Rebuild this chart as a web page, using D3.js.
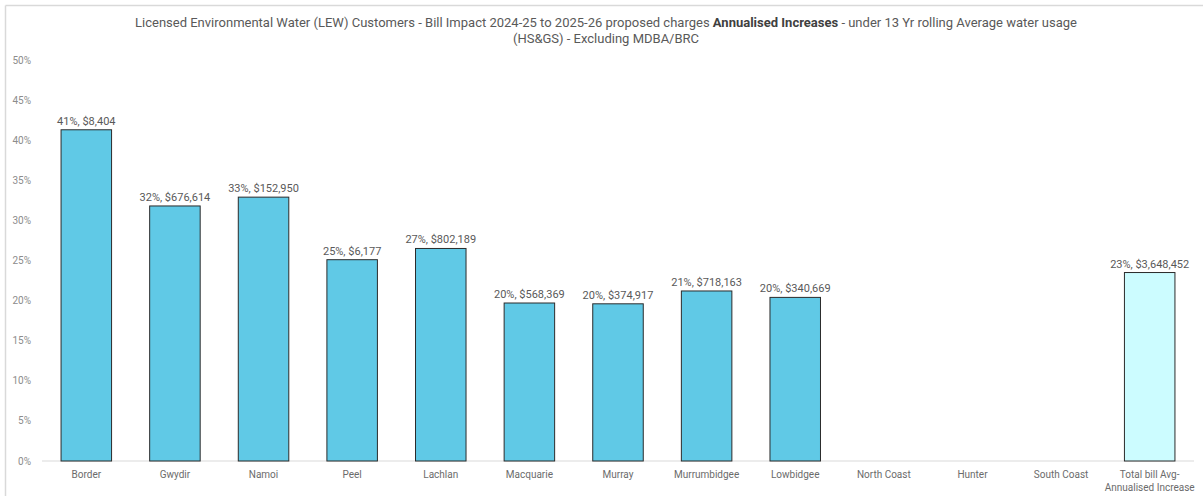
<!DOCTYPE html>
<html>
<head>
<meta charset="utf-8">
<script src="https://cdn.jsdelivr.net/npm/d3@7"></script>
<style>
  body { margin: 0; background: #fff; }
  svg { display: block; font-family: "Roboto", "Liberation Sans", sans-serif; }
</style>
</head>
<body>
<svg id="chart"></svg>
<script>
const categories = ["Border", "Gwydir", "Namoi", "Peel", "Lachlan", "Macquarie", "Murray",
    "Murrumbidgee", "Lowbidgee", "North Coast", "Hunter", "South Coast", "Total bill Avg-|Annualised Increase"];
const pctValues = [41.3, 31.8, 32.9, 25.1, 26.5, 19.7, 19.6, 21.2, 20.4, null, null, null, 23.5];
const barLabels = ["41%, $8,404", "32%, $676,614", "33%, $152,950", "25%, $6,177", "27%, $802,189",
    "20%, $568,369", "20%, $374,917", "21%, $718,163", "20%, $340,669", "", "", "", "23%, $3,648,452"];
const yTicks = [0, 5, 10, 15, 20, 25, 30, 35, 40, 45, 50];

const width = 1203, height = 496;
const margin = {top: 60, right: 9, bottom: 35, left: 42};

const svg = d3.select("#chart").attr("width", width).attr("height", height);

// outer frame (only top and left edges visible in the crop)
svg.append("line").attr("x1", 5.5).attr("x2", width).attr("y1", 5.5).attr("y2", 5.5)
    .attr("stroke", "#d9d9d9").attr("stroke-width", 1.5);
svg.append("line").attr("x1", 5.5).attr("x2", 5.5).attr("y1", 5.5).attr("y2", height)
    .attr("stroke", "#d9d9d9").attr("stroke-width", 1.5);

// title
const title = svg.append("text")
    .attr("x", 606).attr("y", 27)
    .attr("text-anchor", "middle")
    .attr("font-size", "13px")
    .attr("fill", "#595959");
title.append("tspan").text("Licensed Environmental Water (LEW) Customers - Bill Impact 2024-25 to 2025-26 proposed charges ");
title.append("tspan").attr("font-weight", "bold").attr("fill", "#404040").text("Annualised Increases");
title.append("tspan").text(" - under 13 Yr rolling Average water usage");
svg.append("text")
    .attr("x", 606).attr("y", 43)
    .attr("text-anchor", "middle")
    .attr("font-size", "13px")
    .attr("fill", "#595959")
    .text("(HS&GS) - Excluding MDBA/BRC");

const x = d3.scaleBand()
    .domain(categories)
    .range([margin.left, width - margin.right])
    .paddingInner(0.43)
    .paddingOuter(0.215);

const y = d3.scaleLinear()
    .domain([0, 50])
    .range([height - margin.bottom, margin.top]);

// y tick labels
svg.append("g").selectAll("text")
    .data(yTicks)
    .join("text")
    .attr("x", 31)
    .attr("y", d => y(d))
    .attr("dy", "0.35em")
    .attr("text-anchor", "end")
    .attr("font-size", "10px")
    .attr("fill", "#8c8c8c")
    .text(d => d + "%");

// baseline
svg.append("line")
    .attr("x1", margin.left).attr("x2", width - margin.right)
    .attr("y1", y(0)).attr("y2", y(0))
    .attr("stroke", "#d9d9d9").attr("stroke-width", 1);

const data = categories.map((c, i) => ({cat: c, v: pctValues[i], label: barLabels[i]}));
const barData = data.filter(d => d.v != null);

svg.append("g").selectAll("rect")
    .data(barData)
    .join("rect")
    .attr("x", d => x(d.cat))
    .attr("y", d => y(d.v))
    .attr("width", x.bandwidth())
    .attr("height", d => y(0) - y(d.v))
    .attr("fill", (d, i) => d.cat.startsWith("Total") ? "#ccfcff" : "#60c9e6")
    .attr("stroke", "#2b2b2b")
    .attr("stroke-width", 1);

svg.append("g").selectAll("text")
    .data(barData)
    .join("text")
    .attr("x", d => x(d.cat) + x.bandwidth() / 2)
    .attr("y", d => y(d.v) - 5)
    .attr("text-anchor", "middle")
    .attr("font-size", "11px")
    .attr("fill", "#595959")
    .text(d => d.label);

// category labels
const catLabels = svg.append("g").selectAll("text")
    .data(categories)
    .join("text")
    .attr("x", d => x(d) + x.bandwidth() / 2)
    .attr("y", y(0) + 17)
    .attr("text-anchor", "middle")
    .attr("font-size", "10px")
    .attr("fill", "#6b6b6b");
catLabels.each(function(d) {
    const parts = d.split("|");
    const t = d3.select(this);
    parts.forEach((p, i) => {
        t.append("tspan")
            .attr("x", x(d) + x.bandwidth() / 2)
            .attr("dy", i === 0 ? 0 : 13)
            .text(p);
    });
});
</script>
</body>
</html>
